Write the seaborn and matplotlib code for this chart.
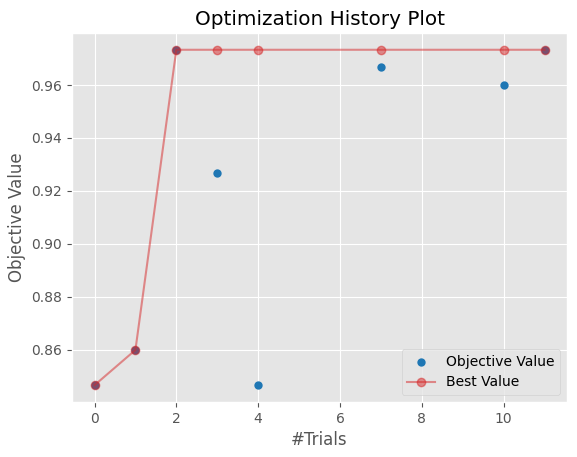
import matplotlib
matplotlib.use("Agg")
import matplotlib.pyplot as plt
import numpy as np
import pandas as pd
import seaborn as sns

# completed trials and their objective values
trial_numbers = [0, 1, 2, 3, 4, 7, 10, 11]
objective_values = [0.8467, 0.8600, 0.9733, 0.9267, 0.8467, 0.9667, 0.9600, 0.9733]
best_values = list(np.maximum.accumulate(objective_values))

df = pd.DataFrame({
    "trial": trial_numbers,
    "objective": objective_values,
    "best": best_values,
})

plt.style.use("ggplot")
cmap = plt.get_cmap("tab10")

fig = plt.figure(figsize=(5.77, 4.57), dpi=100)
ax = fig.add_axes([0.1248, 0.1204, 0.8579, 0.8074])

sns.scatterplot(data=df, x="trial", y="objective", color=cmap(0), s=36,
                linewidth=0, label="Objective Value", ax=ax)
sns.lineplot(data=df, x="trial", y="best", color=cmap(3), alpha=0.5,
             marker="o", markersize=6, markeredgecolor=cmap(3),
             markeredgewidth=1, label="Best Value", ax=ax)

ax.set_title("Optimization History Plot")
ax.set_xlabel("#Trials")
ax.set_ylabel("Objective Value")
ax.legend(loc="lower right")

fig.savefig("out.png", dpi=100)
